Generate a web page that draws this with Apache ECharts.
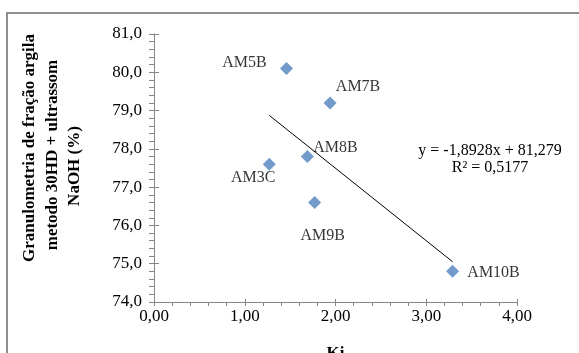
<!DOCTYPE html>
<html>
<head>
<meta charset="utf-8">
<script src="https://cdn.jsdelivr.net/npm/echarts@6/dist/echarts.min.js"></script>
<style>html,body{margin:0;padding:0;background:#fff;overflow:hidden;}#c{width:579px;height:353px;}</style>
</head>
<body>
<div id="c"></div>
<script>
// ---- data ----
var sampleNames = ['AM5B', 'AM7B', 'AM8B', 'AM3C', 'AM9B', 'AM10B'];
var kiValues = [1.46, 1.94, 1.69, 1.27, 1.77, 3.29];
var clayValues = [80.1, 79.2, 77.8, 77.6, 76.6, 74.8];
var trendSlope = -1.8928;
var trendIntercept = 81.279;
var equationText = 'y = -1,8928x + 81,279';
var r2Text = 'R² = 0,5177';
var yTitleLines = ['Granulometria de fração argila', 'metodo 30HD + ultrassom', 'NaOH (%)'];
var xTitle = 'Ki';

// ---- styling (label offsets relative to markers) ----
var labelOffsets = [[-42, -6], [28, -16], [28, -9], [-16, 14], [8, 33], [41, 1]];

var FONT = 'Liberation Serif';
var chart = echarts.init(document.getElementById('c'));

var pts = kiValues.map(function (x, i) {
  return {
    value: [x, clayValues[i]],
    name: sampleNames[i],
    label: { offset: labelOffsets[i] }
  };
});
var xMin = Math.min.apply(null, kiValues), xMax = Math.max.apply(null, kiValues);
var trend = [[xMin, trendSlope * xMin + trendIntercept], [xMax, trendSlope * xMax + trendIntercept]];

var axisCol = '#868686';
function yFmt(v) { return v.toFixed(1).replace('.', ','); }
function xFmt(v) { return v.toFixed(2).replace('.', ','); }

chart.setOption({
  animation: false,
  backgroundColor: '#fff',
  grid: { left: 154, right: 62, top: 34, bottom: 51, containLabel: false, outerBoundsMode: 'none' },
  xAxis: [{
    type: 'value', min: 0, max: 4, interval: 1,
    axisLine: { show: true, lineStyle: { color: axisCol, width: 1 } },
    axisTick: { show: true, length: 4, lineStyle: { color: axisCol } },
    minorTick: { show: true, splitNumber: 5, length: 4, lineStyle: { color: axisCol } },
    splitLine: { show: false },
    axisLabel: { formatter: xFmt, fontFamily: FONT, fontSize: 17, color: '#000', margin: 6 },
    name: xTitle, nameLocation: 'middle', nameGap: 43,
    nameTextStyle: { fontFamily: FONT, fontSize: 17, fontWeight: 'bold', color: '#000' }
  }, {
    type: 'value', min: 0, max: 4, interval: 1, position: 'bottom',
    axisLine: { show: false },
    axisTick: { show: true, inside: true, length: 3, lineStyle: { color: axisCol } },
    axisLabel: { show: false }, splitLine: { show: false }
  }],
  yAxis: [{
    type: 'value', min: 74, max: 81, interval: 1,
    axisLine: { show: true, lineStyle: { color: axisCol, width: 1 } },
    axisTick: { show: true, length: 5, lineStyle: { color: axisCol } },
    minorTick: { show: true, splitNumber: 5, length: 5, lineStyle: { color: axisCol } },
    splitLine: { show: false },
    axisLabel: { formatter: yFmt, fontFamily: FONT, fontSize: 17, color: '#000', margin: 12 }
  }, {
    type: 'value', min: 74, max: 81, interval: 1, position: 'left',
    axisLine: { show: false },
    axisTick: { show: true, inside: true, length: 5, lineStyle: { color: axisCol } },
    axisLabel: { show: false }, splitLine: { show: false }
  }],
  series: [{
    type: 'line',
    data: trend,
    showSymbol: false,
    symbol: 'none',
    lineStyle: { color: '#000', width: 1 },
    silent: true,
    z: 2
  }, {
    type: 'scatter',
    data: pts,
    symbol: 'diamond',
    symbolSize: 13,
    itemStyle: { color: '#4F81BD' },
    label: {
      show: true, position: 'inside',
      formatter: function (p) { return p.name; },
      fontFamily: FONT, fontSize: 16, color: '#000'
    },
    z: 3
  }],
  graphic: [
    { type: 'polyline', shape: { points: [[600, 13], [7, 13], [7, 400]] }, style: { stroke: '#8f8f8f', lineWidth: 2, fill: null }, silent: true },
    { type: 'text', x: 490, y: 151, style: { text: equationText, font: '16px "Liberation Serif"', fill: '#000', align: 'center', verticalAlign: 'middle' } },
    { type: 'text', x: 490, y: 168, style: { text: r2Text, font: '16px "Liberation Serif"', fill: '#000', align: 'center', verticalAlign: 'middle' } },
    { type: 'text', x: 30, y: 148, rotation: Math.PI / 2, style: { text: yTitleLines[0], font: 'bold 17px "Liberation Serif"', fill: '#000', align: 'center', verticalAlign: 'middle' } },
    { type: 'text', x: 53, y: 155, rotation: Math.PI / 2, style: { text: yTitleLines[1], font: 'bold 17px "Liberation Serif"', fill: '#000', align: 'center', verticalAlign: 'middle' } },
    { type: 'text', x: 75, y: 166, rotation: Math.PI / 2, style: { text: yTitleLines[2], font: 'bold 17px "Liberation Serif"', fill: '#000', align: 'center', verticalAlign: 'middle' } }
  ]
});
</script>
</body>
</html>
